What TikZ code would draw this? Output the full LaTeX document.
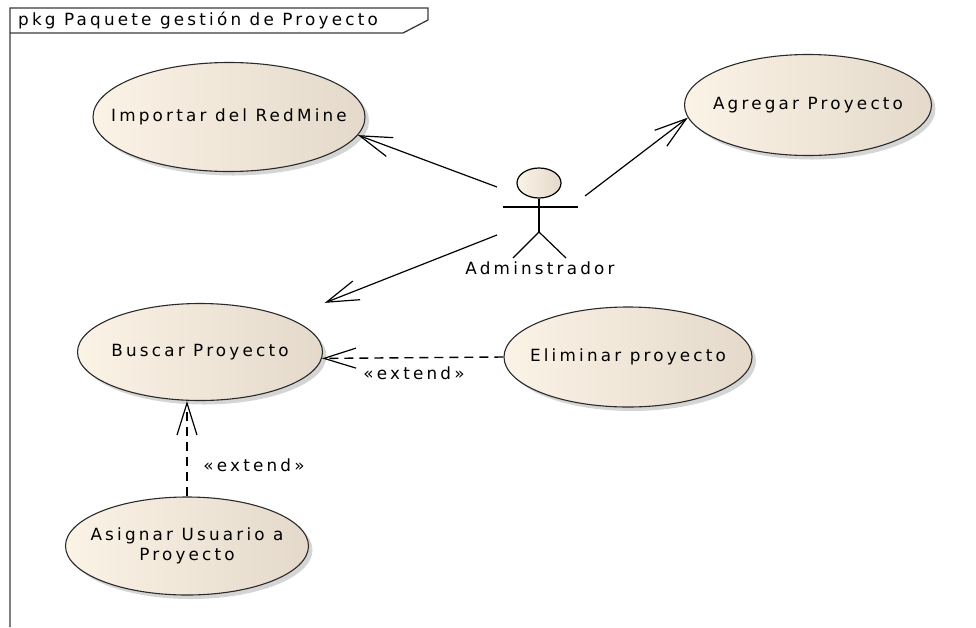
\documentclass[tikz,border=0pt]{standalone}
\usepackage{fontspec}
\setmainfont{DejaVu Sans}[LetterSpace=19]
\usetikzlibrary{arrows.meta,shapes.geometric,shadows}

\definecolor{ucfillL}{HTML}{FBF3E6}
\definecolor{ucfillR}{HTML}{E4D9CB}
\definecolor{ucline}{HTML}{2A2A2A}
\definecolor{framecol}{HTML}{3A3A3A}

\begin{document}
\begin{tikzpicture}[x=1pt, y=-1pt,
  every node/.style={font=\fontsize{16.8}{19.5}\selectfont, text=black},
  usecase/.style={ellipse, draw=ucline, line width=1.1pt,
    left color=ucfillL, right color=ucfillR, inner xsep=-45pt, inner ysep=0pt, align=center,
    drop shadow={shadow xshift=4pt, shadow yshift=-4pt, opacity=0.3, fill=black!55}},
  actorline/.style={line width=1.2pt, draw=black},
  assoc/.style={line width=1.2pt,
    -{Straight Barb[length=32pt, width=20pt, line width=1.2pt]}},
  extendarrow/.style={line width=1.4pt, dash pattern=on 9pt off 6pt,
    -{Straight Barb[length=32pt, width=20pt, line width=1.2pt]}},
  pkgframe/.style={line width=1.3pt, draw=framecol}
]
\useasboundingbox (0,0) rectangle (976,627);

% package frame with its name tab
\draw[pkgframe] (10,627) -- (10,8) -- (428,8) -- (428,20) -- (403,33) -- (10,33);
\node[anchor=west, inner sep=0pt] (title) at (18,21) {pkg Paquete gestión de Proyecto};

% use cases
\node[usecase, minimum width=272pt, minimum height=109pt] (imp) at (229,117) {Importar del RedMine};
\node[usecase, minimum width=247pt, minimum height=101pt] (agr) at (808,105) {Agregar Proyecto};
\node[usecase, minimum width=245pt, minimum height=97pt]  (bus) at (200,352) {Buscar Proyecto};
\node[usecase, minimum width=248pt, minimum height=100pt] (eli) at (628,357) {Eliminar proyecto};
\node[usecase, minimum width=243pt, minimum height=98pt]  (asi) at (187,546) {Asignar Usuario a\\Proyecto};

% actor
\node[ellipse, draw=black, line width=1.2pt, left color=ucfillL, right color=ucfillR,
      minimum width=44pt, minimum height=30pt, inner sep=0pt] (head) at (539,183) {};
\coordinate (hip) at (539,232);
\draw[actorline] (head.south) -- (hip);
\draw[actorline] (503,207) -- (578,207);
\draw[actorline] (hip) -- (513,258);
\draw[actorline] (hip) -- (566,258);
\node (actorlbl) at (540,268) {Adminstrador};

% association ends at the actor
\coordinate (a1) at (497,187);
\coordinate (a2) at (585,196);
\coordinate (a3) at (497,235);

\draw[assoc] (a1) -- (imp.-8);
\draw[assoc] (a2) -- (agr.186);
\draw[assoc, shorten >=40pt] (a3) -- (bus);

% extend relations
\draw[extendarrow] (eli.west) -- (bus.-3);
\node (ext1) at (414,373) {«extend»};
\draw[extendarrow] (asi.north) -- (asi.north |- bus.south);
\node (ext2) at (254,465) {«extend»};
\end{tikzpicture}
\end{document}
